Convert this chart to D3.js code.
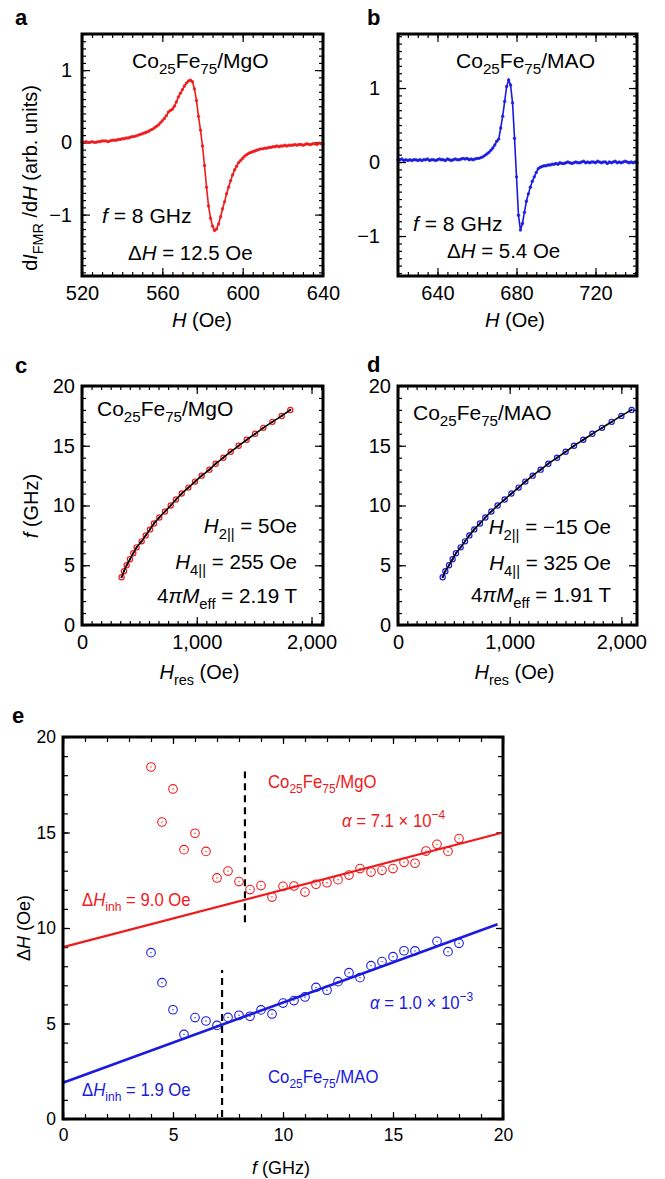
<!doctype html>
<html lang="en">
<head>
<meta charset="utf-8" />
<title>Co25Fe75 FMR</title>
<script src="https://d3js.org/d3.v7.min.js"></script>
<style>
  body { margin: 0; background: #fff; }
  svg text { font-family: "Liberation Sans", Arial, Helvetica, sans-serif; }
</style>
</head>
<body>
<div id="chart"></div>
<script>
// ---- data ----
// panel a: dI/dH, Co25Fe75/MgO at 8 GHz, field sweep 520..640 Oe
const aField = d3.range(520, 641, 1);
const aSignal = [
  0.01, 0.0, 0.01, 0.0, 0.0, 0.01, 0.0, 0.0, 0.01, 0.01, 0.02,
  0.02, 0.02, 0.01, 0.02, 0.03, 0.03, 0.03, 0.04, 0.04, 0.05,
  0.05, 0.06, 0.06, 0.07, 0.08, 0.08, 0.09, 0.10, 0.11, 0.12,
  0.13, 0.14, 0.15, 0.17, 0.18, 0.20, 0.22, 0.24, 0.27, 0.30,
  0.33, 0.37, 0.42, 0.44, 0.46, 0.50, 0.56, 0.63, 0.68, 0.73,
  0.78, 0.82, 0.85, 0.86, 0.84, 0.74, 0.58, 0.36, 0.17, -0.05,
  -0.32, -0.62, -0.88, -1.05, -1.16, -1.22, -1.20, -1.13, -1.03, -0.92,
  -0.82, -0.71, -0.62, -0.53, -0.45, -0.38, -0.33, -0.28, -0.25, -0.22,
  -0.19, -0.17, -0.15, -0.14, -0.13, -0.12, -0.11, -0.10, -0.09, -0.09,
  -0.08, -0.08, -0.07, -0.07, -0.06, -0.06, -0.05, -0.06, -0.05, -0.05,
  -0.04, -0.05, -0.04, -0.04, -0.04, -0.03, -0.04, -0.03, -0.03, -0.04,
  -0.03, -0.02, -0.03, -0.03, -0.02, -0.02, -0.03, -0.01, -0.02, -0.02
];
// panel b: dI/dH, Co25Fe75/MAO at 8 GHz, sweep 620..741 Oe
const bField = d3.range(620, 742, 1);
const bSignal = [
  0.03, 0.03, 0.04, 0.02, 0.03, 0.02, 0.03, 0.02, 0.03, 0.03,
  0.02, 0.03, 0.02, 0.03, 0.03, 0.04, 0.02, 0.03, 0.03, 0.02,
  0.03, 0.04, 0.03, 0.03, 0.02, 0.04, 0.03, 0.02, 0.03, 0.04,
  0.03, 0.03, 0.04, 0.05, 0.04, 0.05, 0.03, 0.04, 0.03, 0.04,
  0.05,
  0.05, 0.06, 0.07, 0.09, 0.11, 0.13, 0.16, 0.19, 0.23, 0.28,
  0.31, 0.46, 0.62, 0.82, 1.02, 1.11, 1.04, 0.80, 0.32, -0.20,
  -0.72, -0.92, -0.83, -0.68, -0.53, -0.43, -0.34, -0.26, -0.20, -0.14,
  -0.09, -0.07, -0.06, -0.05, -0.05, -0.04, -0.04, -0.03,
  -0.03, -0.02, -0.03, -0.01, -0.02, -0.02, -0.01, 0.0, -0.01, -0.02,
  -0.01, 0.0, -0.01, -0.01, 0.0, 0.01, -0.01, 0.0, -0.01, 0.0,
  0.0, -0.01, 0.01, 0.0, -0.01, 0.0, 0.0, -0.02, 0.0, -0.01,
  0.0, 0.01, -0.01, 0.0, -0.01, 0.0, 0.01, 0.0, -0.01, 0.0,
  -0.01, 0.0, -0.01
];
// panels c, d: frequency vs resonance field
const kittelFreq = [4, 4.5, 5, 5.5, 6, 6.5, 7, 7.5, 8, 8.5, 9, 9.5, 10, 10.5, 11, 11.5, 12, 12.5, 13, 13.5, 14, 14.5, 15, 15.5, 16, 16.5, 17, 17.5, 18];
const cHres = [345, 366, 389, 418, 447, 476, 520, 555, 593, 627, 674, 723, 773, 819, 869, 927, 985, 1043, 1110, 1165, 1232, 1296, 1365, 1435, 1508, 1580, 1659, 1740, 1815];
const dHres = [400, 424, 457, 489, 519, 561, 600, 639, 683, 734, 782, 836, 892, 955, 1015, 1080, 1140, 1206, 1277, 1346, 1424, 1501, 1576, 1659, 1740, 1827, 1913, 2000, 2092];
// panel e: linewidth vs frequency
const eFreqMgO = [4, 4.5, 5, 5.5, 6, 6.5, 7, 7.5, 8, 8.5, 9, 9.5, 10, 10.5, 11, 11.5, 12, 12.5, 13, 13.5, 14, 14.5, 15, 15.5, 16, 16.5, 17, 17.5, 18];
const eWidthMgO = [18.43, 15.55, 17.28, 14.10, 14.96, 14.01, 12.62, 12.98, 12.43, 12.01, 12.22, 11.62, 12.18, 12.20, 11.88, 12.29, 12.37, 12.53, 12.77, 13.11, 12.93, 13.02, 13.11, 13.44, 13.39, 14.03, 14.38, 14.01, 14.68];
const eFreqMAO = [4, 4.5, 5, 5.5, 6, 6.5, 7, 7.5, 8, 8.5, 9, 9.5, 10, 10.5, 11, 11.5, 12, 12.5, 13, 13.5, 14, 14.5, 15, 15.5, 16, 17, 17.5, 18];
const eWidthMAO = [8.71, 7.14, 5.72, 4.43, 5.31, 5.13, 4.90, 5.32, 5.43, 5.38, 5.71, 5.50, 6.07, 6.20, 6.39, 6.89, 6.74, 7.19, 7.66, 7.40, 8.03, 8.24, 8.50, 8.81, 8.80, 9.30, 8.76, 9.20];
const fitMgOF = [0, 20], fitMgOH = [9.0, 15.0];
const fitMAOF = [0, 19.75], fitMAOH = [1.9, 10.2];
const dashF = [8.27, 7.23], dashLo = [10.3, 0.1], dashHi = [18.2, 7.8];
// tick labels
const aXTicks = [520, 560, 600, 640], bXTicks = [640, 680, 720], abYTicks = [-1, 0, 1];
const cdXTicks = [0, 1000, 2000], cdYTicks = [0, 5, 10, 15, 20];
const eTicks = [0, 5, 10, 15, 20];

const RED = "#ee1a1c", BLUE = "#1a1ae0";

const svg = d3.select("#chart").append("svg").attr("width", 665).attr("height", 1179);

function rich(g, x, y, parts, o = {}) {
  const size = o.size || 18;
  const t = g.append("text")
    .attr("font-size", size).attr("fill", o.fill || "#000")
    .attr("text-anchor", o.anchor || "start")
    .attr("transform", `translate(${x},${y}) rotate(${o.rotate || 0}) scale(${o.sx || 1},1)`);
  let shift = 0;
  parts.forEach(([s, k]) => {
    const sp = t.append("tspan").text(s);
    let want = 0;
    if (k === "sub") { want = size * 0.3; sp.attr("font-size", size * 0.72); }
    if (k === "sup") { want = -size * 0.42; sp.attr("font-size", size * 0.72); }
    if (k === "i") sp.attr("font-style", "italic");
    if (want !== shift) { sp.attr("dy", want - shift); shift = want; }
  });
  return t;
}

function panel(p) {
  const x = d3.scaleLinear().domain(p.xd).range([p.l, p.r]);
  const y = d3.scaleLinear().domain(p.yd).range([p.b, p.t]);
  const g = svg.append("g");
  const sides = [
    [d3.axisBottom, x, `translate(0,${p.b})`, p.xMajor, p.xMinor, true, p.xPad],
    [d3.axisTop, x, `translate(0,${p.t})`, p.xMajor, p.xMinor, false, 0],
    [d3.axisLeft, y, `translate(${p.l},0)`, p.yMajor, p.yMinor, true, p.yPad],
    [d3.axisRight, y, `translate(${p.r},0)`, p.yMajor, p.yMinor, false, 0]
  ];
  sides.forEach(([fn, s, tr, major, minor, lab, pad]) => {
    const m = g.append("g").attr("transform", tr)
      .call(fn(s).tickValues(minor).tickSize(-p.minorLen).tickFormat(""));
    const M = g.append("g").attr("transform", tr)
      .call(fn(s).tickValues(major).tickSize(-p.majorLen).tickPadding(pad)
        .tickFormat(lab ? d3.format(",") : ""));
    m.select(".domain").remove();
    M.select(".domain").remove();
    g.selectAll("line").attr("stroke-width", 1.2);
    M.attr("font-size", p.tickFont).selectAll("text").attr("fill", "#000");
  });
  p.x = x; p.y = y; p.g = g;
  return p;
}

function frame(p) {
  p.g.append("rect").attr("x", p.l).attr("y", p.t)
    .attr("width", p.r - p.l).attr("height", p.b - p.t)
    .attr("fill", "none").attr("stroke", "#000").attr("stroke-width", 3);
}

function letter(x, y, s) {
  svg.append("text").attr("x", x).attr("y", y).attr("font-size", 22)
    .attr("font-weight", "bold").text(s);
}

const co = sub => [["Co"], ["25", "sub"], ["Fe"], ["75", "sub"], ["/" + sub]];

// ---- panel a ----
const pa = panel({ l: 82, r: 323, t: 34, b: 276, xd: [520, 640], yd: [-1.85, 1.5],
  xMajor: aXTicks, xMinor: d3.range(520, 641, 5), yMajor: abYTicks,
  yMinor: d3.range(-18, 16).map(d => d / 10), minorLen: 4, majorLen: 8,
  xPad: 10, yPad: 10, tickFont: 20 });
const lineA = d3.line().x(d => pa.x(d[0])).y(d => pa.y(d[1]));
const aPts = aField.map((h, i) => [h, aSignal[i]]);
pa.g.append("path").datum(aPts).attr("d", lineA).attr("fill", "none")
  .attr("stroke", RED).attr("stroke-width", 1.6);
pa.g.selectAll(".pa").data(aPts).join("circle").attr("cx", d => pa.x(d[0])).attr("cy", d => pa.y(d[1]))
  .attr("r", 1.7).attr("fill", RED).attr("fill-opacity", 0.85);
frame(pa);
rich(svg, 132, 68, co("MgO"), { size: 19.5, sx: 1.08 });
rich(svg, 102, 223, [["f", "i"], [" = 8 GHz"]], { size: 19.5, sx: 1.08 });
rich(svg, 128, 260, [["Δ"], ["H", "i"], [" = 12.5 Oe"]], { size: 19.5, sx: 1.05 });
rich(svg, 37, 178, [["d"], ["I", "i"], ["FMR", "sub"], [" /d"], ["H", "i"], [" (arb. units)"]],
  { size: 20, rotate: -90, anchor: "middle" });
rich(svg, 202, 327, [["H", "i"], [" (Oe)"]], { size: 20, anchor: "middle" });
letter(15, 25, "a");

// ---- panel b ----
const pb = panel({ l: 398, r: 637, t: 34, b: 276, xd: [620, 741], yd: [-1.54, 1.73],
  xMajor: bXTicks, xMinor: d3.range(620, 742, 5), yMajor: abYTicks,
  yMinor: d3.range(-15, 18).map(d => d / 10), minorLen: 4, majorLen: 8,
  xPad: 10, yPad: 18, tickFont: 20 });
const lineB = d3.line().x(d => pb.x(d[0])).y(d => pb.y(d[1]));
const bPts = bField.map((h, i) => [h, bSignal[i]]);
pb.g.append("path").datum(bPts).attr("d", lineB).attr("fill", "none")
  .attr("stroke", BLUE).attr("stroke-width", 1.6);
pb.g.selectAll(".pb").data(bPts).join("circle").attr("cx", d => pb.x(d[0])).attr("cy", d => pb.y(d[1]))
  .attr("r", 1.7).attr("fill", BLUE).attr("fill-opacity", 0.85);
frame(pb);
rich(svg, 456, 68, co("MAO"), { size: 19.5, sx: 1.08 });
rich(svg, 413, 231, [["f", "i"], [" = 8 GHz"]], { size: 19.5, sx: 1.08 });
rich(svg, 447, 258, [["Δ"], ["H", "i"], [" = 5.4 Oe"]], { size: 19.5, sx: 1.05 });
rich(svg, 515, 327, [["H", "i"], [" (Oe)"]], { size: 20, anchor: "middle" });
letter(367, 25, "b");

// ---- panels c, d ----
function kittel(l, r, xd, Hres, col, yPad, label, params) {
  const p = panel({ l, r, t: 386, b: 625, xd, yd: [0, 20],
    xMajor: cdXTicks, xMinor: d3.range(0, xd[1], 1000 / 12), yMajor: cdYTicks,
    yMinor: d3.range(0, 21, 1), minorLen: 4, majorLen: 8,
    xPad: 10, yPad, tickFont: 20 });
  const pts = kittelFreq.map((f, i) => [Hres[i], f]);
  p.g.selectAll(".pt").data(pts).join("circle").attr("cx", d => p.x(d[0])).attr("cy", d => p.y(d[1]))
    .attr("r", 2.6).attr("fill", "none").attr("stroke", col).attr("stroke-width", 1.2);
  p.g.append("path").datum(pts)
    .attr("d", d3.line().curve(d3.curveCatmullRom).x(d => p.x(d[0])).y(d => p.y(d[1])))
    .attr("fill", "none").attr("stroke", "#000").attr("stroke-width", 1.6);
  p.g.selectAll(".dot").data(pts).join("circle").attr("cx", d => p.x(d[0])).attr("cy", d => p.y(d[1]))
    .attr("r", 1.1).attr("fill", "#000");
  frame(p);
  rich(svg, l + 15, label, co(params.sub), { size: 20, sx: 1.05 });
  const rx = r - 26;
  rich(svg, rx, params.y[0], [["H", "i"], ["2||", "sub"], [params.h2]], { size: 20, anchor: "end", sx: 1.03 });
  rich(svg, rx, params.y[1], [["H", "i"], ["4||", "sub"], [params.h4]], { size: 20, anchor: "end", sx: 1.03 });
  rich(svg, rx, params.y[2], [["4"], ["π", "i"], ["M", "i"], ["eff", "sub"], [params.m]], { size: 20, anchor: "end", sx: 1.03 });
  rich(svg, (l + r) / 2 - 3, 679, [["H", "i"], ["res", "sub"], [" (Oe)"]], { size: 20, anchor: "middle" });
  return p;
}
kittel(82, 323, [0, 2100], cHres, RED, 7, 416,
  { sub: "MgO", h2: " = 5Oe", h4: " = 255 Oe", m: " = 2.19 T", y: [533, 569, 603] });
kittel(398, 637, [0, 2140], dHres, BLUE, 7, 420,
  { sub: "MAO", h2: " = −15 Oe", h4: " = 325 Oe", m: " = 1.91 T", y: [534, 570, 602] });
rich(svg, 38, 506, [["f", "i"], [" (GHz)"]], { size: 20, rotate: -90, anchor: "middle" });
letter(15, 373, "c");
letter(367, 372, "d");

// ---- panel e ----
const pe = panel({ l: 63, r: 503, t: 737, b: 1119, xd: [0, 20], yd: [0, 20],
  xMajor: eTicks, xMinor: d3.range(0, 21, 1), yMajor: eTicks, yMinor: d3.range(0, 21, 1),
  minorLen: 5, majorLen: 7, xPad: 10, yPad: 7, tickFont: 17.5 });
const fitLine = d3.line().x(d => pe.x(d[0])).y(d => pe.y(d[1]));
pe.g.append("path").datum(fitMgOF.map((f, i) => [f, fitMgOH[i]])).attr("d", fitLine)
  .attr("stroke", RED).attr("stroke-width", 2.2).attr("fill", "none");
pe.g.append("path").datum(fitMAOF.map((f, i) => [f, fitMAOH[i]])).attr("d", fitLine)
  .attr("stroke", BLUE).attr("stroke-width", 2.6).attr("fill", "none");
dashF.forEach((f, i) => {
  pe.g.append("line").attr("x1", pe.x(f)).attr("x2", pe.x(f))
    .attr("y1", pe.y(dashLo[i])).attr("y2", pe.y(dashHi[i]))
    .attr("stroke", "#000").attr("stroke-width", 2.2).attr("stroke-dasharray", "7,5");
});
[[eFreqMgO, eWidthMgO, RED], [eFreqMAO, eWidthMAO, BLUE]].forEach(([fs, ws, col]) => {
  const pts = fs.map((f, i) => [f, ws[i]]);
  pe.g.append("g").selectAll("circle").data(pts).join("circle")
    .attr("cx", d => pe.x(d[0])).attr("cy", d => pe.y(d[1])).attr("r", 4.3)
    .attr("fill", "none").attr("stroke", col).attr("stroke-width", 1.1);
  pe.g.append("g").selectAll("circle").data(pts).join("circle")
    .attr("cx", d => pe.x(d[0])).attr("cy", d => pe.y(d[1])).attr("r", 0.7).attr("fill", col);
});
frame(pe);
rich(svg, 268, 788, co("MgO"), { size: 18, fill: RED, sx: 0.93 });
rich(svg, 342, 827, [["α", "i"], [" = 7.1 × 10"], ["−4", "sup"]], { size: 18, fill: RED, sx: 0.93 });
rich(svg, 82, 906, [["Δ"], ["H", "i"], ["inh", "sub"], [" = 9.0 Oe"]], { size: 18, fill: RED, sx: 0.93 });
rich(svg, 370, 1009, [["α", "i"], [" = 1.0 × 10"], ["−3", "sup"]], { size: 18, fill: BLUE, sx: 0.93 });
rich(svg, 268, 1083, co("MAO"), { size: 18, fill: BLUE, sx: 0.93 });
rich(svg, 82, 1096, [["Δ"], ["H", "i"], ["inh", "sub"], [" = 1.9 Oe"]], { size: 18, fill: BLUE, sx: 0.93 });
rich(svg, 30, 928, [["Δ"], ["H", "i"], [" (Oe)"]], { size: 18, rotate: -90, anchor: "middle" });
rich(svg, 281, 1174, [["f", "i"], [" (GHz)"]], { size: 18, anchor: "middle" });
letter(12, 723, "e");
</script>
</body>
</html>
